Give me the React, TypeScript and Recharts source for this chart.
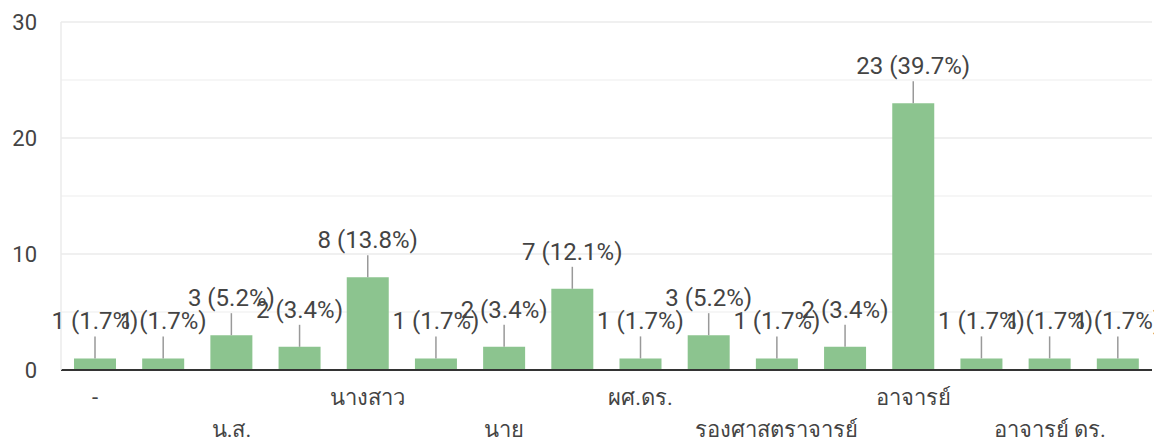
import { BarChart, Bar, XAxis, YAxis, CartesianGrid, LabelList } from 'recharts'

// categories (odd ones are hidden on the axis in the original, names guessed)
const categories = [
  '-',
  'ดร.',
  'น.ส.',
  'นาง',
  'นางสาว',
  'นางสาว ดร.',
  'นาย',
  'ผศ.',
  'ผศ.ดร.',
  'ผู้ช่วยศาสตราจารย์',
  'รองศาสตราจารย์',
  'รศ.ดร.',
  'อาจารย์',
  'อาจารย์ ดร',
  'อาจารย์ ดร.',
  'อาจารย์ดร.',
]
const counts = [1, 1, 3, 2, 8, 1, 2, 7, 1, 3, 1, 2, 23, 1, 1, 1]
const yTicks = [0, 10, 20, 30]
const minorLines = [5, 15, 25]

const total = counts.reduce((s, v) => s + v, 0)
const data = categories.map((name, i) => ({ name, value: counts[i] }))

const FONT = 'Roboto, "Noto Sans", sans-serif'
const TEXT = '#444'
const BAR = '#8cc48f'

const XTick = (props: any) => {
  const { x, y, payload } = props
  const idx = payload.index
  if (idx % 2 === 1) return <g />
  const row = idx % 4 === 0 ? 0 : 1
  return (
    <text
      x={x}
      y={y + 27 + row * 32}
      textAnchor='middle'
      fontSize={22}
      fontFamily={FONT}
      fill={TEXT}
    >
      {payload.value}
    </text>
  )
}

const ValueLabel = (props: any) => {
  const { x, y, width, value } = props
  const cx = x + width / 2
  const pct = ((value / total) * 100).toFixed(1)
  return (
    <g>
      <line x1={cx} y1={y} x2={cx} y2={y - 22} stroke='#999' strokeWidth={1.5} />
      <text
        x={cx}
        y={y - 29}
        textAnchor='middle'
        fontSize={24}
        fontFamily={FONT}
        fill={TEXT}
      >
        {`${value} (${pct}%)`}
      </text>
    </g>
  )
}

export default function App() {
  return (
    <div
      style={{
        position: 'absolute',
        left: 0,
        top: 0,
        width: 1154,
        height: 439,
        overflow: 'hidden',
        background: '#fff',
      }}
    >
      <BarChart
        width={1154}
        height={439}
        data={data}
        margin={{ top: 22, right: 2, left: 0, bottom: 0 }}
      >
        {/* minor lines at 5, 15, 25 */}
        <CartesianGrid
          vertical={false}
          horizontalValues={minorLines}
          stroke='#f3f3f3'
          strokeWidth={1.5}
        />
        <CartesianGrid vertical={false} stroke='#ebebeb' strokeWidth={1.5} />
        <XAxis
          dataKey='name'
          interval={0}
          tickLine={false}
          axisLine={{ stroke: '#333', strokeWidth: 2 }}
          tick={<XTick />}
          height={69}
        />
        <YAxis
          domain={[0, 30]}
          ticks={yTicks}
          width={61}
          tickLine={false}
          tickMargin={18}
          axisLine={{ stroke: '#ebebeb', strokeWidth: 1.5 }}
          tick={{ fontSize: 22, fontFamily: FONT, fill: TEXT }}
        />
        <YAxis
          yAxisId='right'
          orientation='right'
          width={0}
          tick={false}
          tickLine={false}
          axisLine={{ stroke: '#ebebeb', strokeWidth: 1.5 }}
        />
        <Bar dataKey='value' fill={BAR} barSize={42} isAnimationActive={false}>
          <LabelList dataKey='value' content={<ValueLabel />} />
        </Bar>
      </BarChart>
    </div>
  )
}
